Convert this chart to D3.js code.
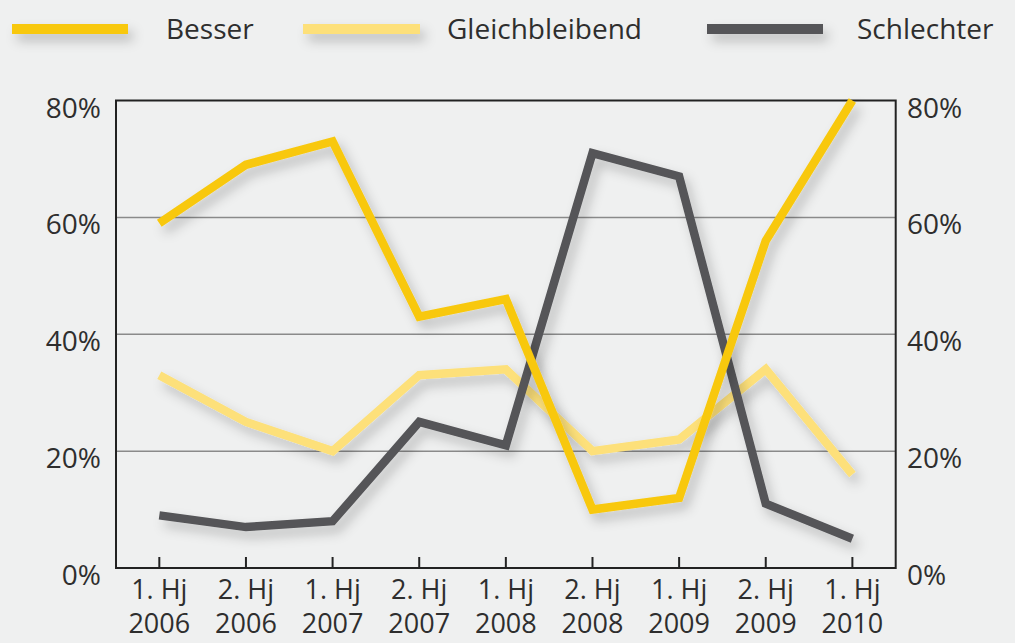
<!DOCTYPE html>
<html><head><meta charset="utf-8">
<script src="https://cdn.jsdelivr.net/npm/d3@7"></script>
<style>
html,body{margin:0;padding:0;background:#eff0f0;}
svg{display:block;}
text{font-family:"Open Sans",sans-serif;fill:#2e2e2e;}
</style></head>
<body><svg id="c" width="1015" height="643"></svg>
<script>
const periodLabels = ["1. Hj","2. Hj","1. Hj","2. Hj","1. Hj","2. Hj","1. Hj","2. Hj","1. Hj"];
const yearLabels = ["2006","2006","2007","2007","2008","2008","2009","2009","2010"];
const besser = [59,69,73,43,46,10,12,56,80];
const gleich = [33,25,20,33,34,20,22,34,16];
const schlechter = [9,7,8,25,21,71,67,11,5];
const seriesNames = ["Besser","Gleichbleibend","Schlechter"];
const seriesColors = ["#f8c80e","#fde07a","#555558"];
const yTicks = [0,20,40,60,80];

const svg = d3.select("#c");
const L = 116, R = 895.7, T = 100.5, B = 568;
const cats = d3.range(periodLabels.length);
const x = d3.scalePoint().domain(cats).range([L, R]).padding(0.5);
const y = d3.scaleLinear().domain([0,80]).range([B, T]);

const defs = svg.append("defs");
const f = defs.append("filter").attr("id","sh").attr("filterUnits","userSpaceOnUse")
  .attr("x",0).attr("y",0).attr("width",1015).attr("height",643);
f.append("feDropShadow").attr("dx",5).attr("dy",7).attr("stdDeviation",6).attr("flood-color","#000").attr("flood-opacity",0.22);

// gridlines
svg.append("g").selectAll("line").data([20,40,60]).join("line")
  .attr("x1",L).attr("x2",R).attr("y1",d=>y(d)).attr("y2",d=>y(d))
  .attr("stroke","#8a8a8a").attr("stroke-width",1.5);

// box
svg.append("rect").attr("x",L).attr("y",T).attr("width",R-L).attr("height",B-T)
  .attr("fill","none").attr("stroke","#222").attr("stroke-width",2);

// ticks inside from bottom
svg.append("g").selectAll("line").data(cats).join("line")
  .attr("x1",d=>x(d)).attr("x2",d=>x(d)).attr("y1",B).attr("y2",B-11)
  .attr("stroke","#222").attr("stroke-width",2);

// y labels
const yl = svg.append("g");
yl.selectAll("text.l").data(yTicks).join("text").attr("class","l")
  .attr("x",101).attr("y",d=>y(d)+17).attr("text-anchor","end")
  .attr("font-size",28).text(d=>d+"%");
yl.selectAll("text.r").data(yTicks).join("text").attr("class","r")
  .attr("x",907).attr("y",d=>y(d)+17).attr("text-anchor","start")
  .attr("font-size",28).text(d=>d+"%");

// x labels
const xl = svg.append("g");
xl.selectAll("text.p").data(cats).join("text").attr("class","p")
  .attr("x",d=>x(d)).attr("y",599).attr("text-anchor","middle")
  .attr("font-size",27).text(d=>periodLabels[d]);
xl.selectAll("text.yr").data(cats).join("text").attr("class","yr")
  .attr("x",d=>x(d)).attr("y",633).attr("text-anchor","middle")
  .attr("font-size",27).text(d=>yearLabels[d]);

// lines
const line = d3.line().x((d,i)=>x(i)).y(d=>y(d));
const data = [besser, gleich, schlechter];
const order = [1,2,0];
const lg = svg.append("g");
order.forEach(k=>{
  lg.append("path").datum(data[k]).attr("d",line)
    .attr("fill","none").attr("stroke",seriesColors[k]).attr("stroke-width",8.5)
    .attr("stroke-linejoin","miter").attr("stroke-linecap","butt")
    .attr("filter","url(#sh)");
});

// legend
const legX = [[12,128,166],[303,420,447],[707,823,857]];
const leg = svg.append("g");
seriesNames.forEach((n,i)=>{
  leg.append("rect").attr("x",legX[i][0]).attr("width",legX[i][1]-legX[i][0]).attr("y",24).attr("height",10)
    .attr("fill",seriesColors[i]).attr("filter","url(#sh)");
  leg.append("text").attr("x",legX[i][2]).attr("y",39).attr("font-size",28).text(n);
});
</script></body></html>
